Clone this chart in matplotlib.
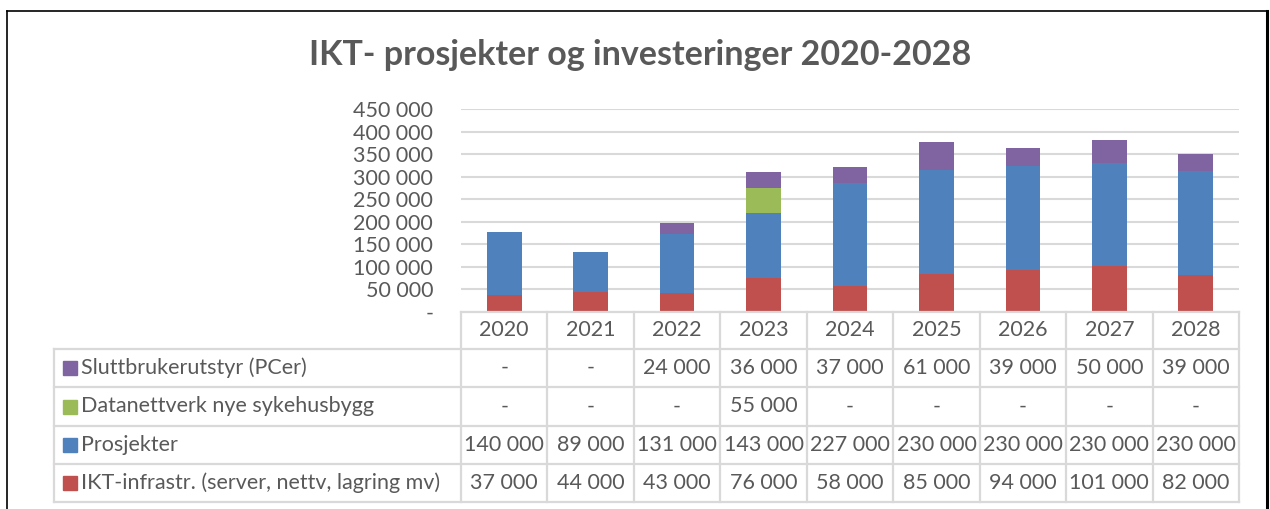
import matplotlib.pyplot as plt
from matplotlib.lines import Line2D
from matplotlib.patches import Rectangle
import numpy as np

plt.rcParams['font.family'] = ['Lato', 'DejaVu Sans']

years = ['2020', '2021', '2022', '2023', '2024', '2025', '2026', '2027', '2028']
infra = [37000, 44000, 43000, 76000, 58000, 85000, 94000, 101000, 82000]
prosjekter = [140000, 89000, 131000, 143000, 227000, 230000, 230000, 230000, 230000]
datanett = [0, 0, 0, 55000, 0, 0, 0, 0, 0]
sluttbruker = [0, 0, 24000, 36000, 37000, 61000, 39000, 50000, 39000]

names = ['IKT-infrastr. (server, nettv, lagring mv)', 'Prosjekter',
         'Datanettverk nye sykehusbygg', 'Sluttbrukerutstyr (PCer)']
colors = ['#C0504D', '#4F81BD', '#9BBB59', '#8064A2']
series = [infra, prosjekter, datanett, sluttbruker]

txt = '#595959'
grid = '#D9D9D9'
fs = 15.5
W, H = 1270, 509

def fmt(v):
    return '-' if v == 0 else f'{v:,}'.replace(',', ' ')

fig = plt.figure(figsize=(12.7, 5.09), dpi=100)

# bar chart
ax = fig.add_axes([461 / W, (H - 312) / H, 778 / W, 203 / H])
x = np.arange(len(years))
bottom = np.zeros(len(years))
for vals, c in zip(series, colors):
    ax.bar(x, vals, 0.4, bottom=bottom, color=c, zorder=3)
    bottom += np.array(vals)
ax.set_xlim(-0.5, len(years) - 0.5)
ax.set_ylim(0, 450000)
yt = np.arange(0, 450001, 50000)
ax.set_yticks(yt)
ax.set_yticklabels([fmt(v) for v in yt], color=txt, fontsize=fs)
ax.tick_params(axis='y', length=0, pad=20)
ax.set_xticks([])
for s in ax.spines.values():
    s.set_visible(False)
ax.yaxis.grid(True, color=grid, lw=1.5, zorder=0)
ax.set_axisbelow(True)

# data table
colw = 778 / 9
xmin = -0.5 - (461 - 54) / colw
rows = [0, 37, 75, 114, 152, 190]
tb = fig.add_axes([54 / W, (H - 502) / H, (1239 - 54) / W, 190 / H])
tb.set_xlim(xmin, 8.5)
tb.set_ylim(190, 0)
tb.axis('off')
lw = 1.6
tb.plot([-0.5, 8.5], [0, 0], color=grid, lw=lw, clip_on=False)
for r in rows[1:]:
    tb.plot([xmin, 8.5], [r, r], color=grid, lw=lw, clip_on=False)
for i in range(len(years) + 1):
    tb.plot([i - 0.5, i - 0.5], [0, 190], color=grid, lw=lw, clip_on=False)
tb.plot([xmin, xmin], [37, 190], color=grid, lw=lw, clip_on=False)

for i, y in enumerate(years):
    tb.text(i, 18.5, y, ha='center', va='center', color=txt, fontsize=fs)

# table rows top to bottom: reversed stacking order
for k, (name, vals, c) in enumerate(zip(names[::-1], series[::-1], colors[::-1])):
    yc = (rows[k + 1] + rows[k + 2]) / 2
    mx = xmin + (63 - 54) / colw
    tb.add_patch(Rectangle((mx, yc - 7), 14 / colw, 14, color=c, clip_on=False))
    tb.text(xmin + (81 - 54) / colw, yc, name, ha='left', va='center', color=txt, fontsize=fs)
    for i, v in enumerate(vals):
        tb.text(i, yc, fmt(v), ha='center', va='center', color=txt, fontsize=fs)

fig.text(640 / W, 1 - 55 / H, 'IKT- prosjekter og investeringer 2020-2028',
         ha='center', va='center', color=txt, fontsize=24.5, fontweight='bold')

# outer frame
fig.add_artist(Line2D([7 / W, 7 / W], [0, 1 - 11 / H], color='black', lw=1.2))
fig.add_artist(Line2D([7 / W, 1267 / W], [1 - 11 / H, 1 - 11 / H], color='black', lw=1.2))
fig.add_artist(Line2D([1267 / W, 1267 / W], [0, 1 - 11 / H], color='black', lw=2.2))

fig.savefig('out.png', dpi=100)
